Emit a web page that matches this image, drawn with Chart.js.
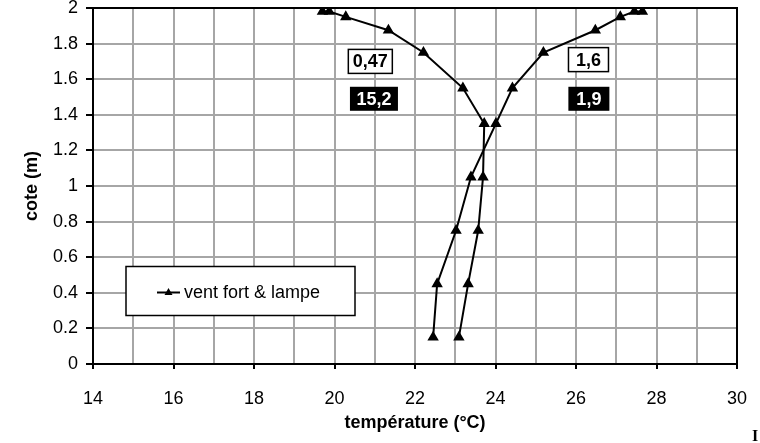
<!DOCTYPE html>
<html>
<head>
<meta charset="utf-8">
<script src="https://cdn.jsdelivr.net/npm/chart.js@4"></script>
<style>
  html, body { margin: 0; padding: 0; background: #fff; }
</style>
</head>
<body>
<canvas id="chart" width="760" height="443"></canvas>
<script>
// series 1 : branche qui finit en haut a gauche
const tempA = [19.70, 19.87, 20.28, 21.34, 22.21, 23.19, 23.72, 23.69, 23.57, 23.32, 23.09];
const coteA = [1.98, 1.98, 1.95, 1.875, 1.75, 1.55, 1.35, 1.05, 0.75, 0.45, 0.15];
// series 2 : branche qui finit en haut a droite
const tempB = [27.65, 27.45, 27.10, 26.48, 25.19, 24.42, 24.01, 23.39, 23.02, 22.55, 22.45];
const coteB = [1.98, 1.98, 1.95, 1.875, 1.75, 1.55, 1.35, 1.05, 0.75, 0.45, 0.15];

const seriesName = 'vent fort & lampe';
const noteTexts = ['0,47', '15,2', '1,6', '1,9'];

const FONT = '"Liberation Sans", Arial, sans-serif';

// placement of the value boxes, in data units
const notePlaces = [
  { x: 20.89, y: 1.70, dark: false, w: 44 },
  { x: 20.98, y: 1.49, dark: true, w: 48 },
  { x: 26.31, y: 1.71, dark: false, w: 40 },
  { x: 26.32, y: 1.49, dark: true, w: 41 }
];

const toPts = (xs, ys) => xs.map((v, i) => ({ x: v, y: ys[i] }));

const extras = {
  id: 'extras',
  afterDraw(chart) {
    const { ctx, chartArea: a, scales: { x, y } } = chart;
    ctx.save();

    // frame
    ctx.strokeStyle = '#000';
    ctx.lineWidth = 2;
    ctx.strokeRect(a.left, a.top, a.right - a.left, a.bottom - a.top);

    // value boxes
    ctx.font = 'bold 18px ' + FONT;
    ctx.textAlign = 'center';
    ctx.textBaseline = 'middle';
    notePlaces.forEach((n, i) => {
      const cx = x.getPixelForValue(n.x);
      const cy = y.getPixelForValue(n.y);
      const h = 24;
      if (n.dark) {
        ctx.fillStyle = '#000';
        ctx.fillRect(cx - n.w / 2, cy - h / 2, n.w, h);
        ctx.fillStyle = '#fff';
      } else {
        ctx.fillStyle = '#fff';
        ctx.fillRect(cx - n.w / 2, cy - h / 2, n.w, h);
        ctx.lineWidth = 1.5;
        ctx.strokeStyle = '#000';
        ctx.strokeRect(cx - n.w / 2, cy - h / 2, n.w, h);
        ctx.fillStyle = '#000';
      }
      ctx.fillText(noteTexts[i], cx, cy + 1);
    });

    // legend box
    const lx = a.left + 33, ly = a.top + 258.5;
    ctx.fillStyle = '#fff';
    ctx.fillRect(lx, ly, 229, 49);
    ctx.lineWidth = 1.5;
    ctx.strokeStyle = '#000';
    ctx.strokeRect(lx, ly, 229, 49);
    ctx.lineWidth = 2;
    ctx.beginPath();
    ctx.moveTo(lx + 31, ly + 26);
    ctx.lineTo(lx + 54, ly + 26);
    ctx.stroke();
    ctx.fillStyle = '#000';
    ctx.beginPath();
    ctx.moveTo(lx + 42.5, ly + 21.5);
    ctx.lineTo(lx + 46.5, ly + 28.5);
    ctx.lineTo(lx + 38.5, ly + 28.5);
    ctx.closePath();
    ctx.fill();
    ctx.font = '18px ' + FONT;
    ctx.textAlign = 'left';
    ctx.fillText(seriesName, lx + 58, ly + 27);

    // stray glyph at the bottom right corner
    ctx.font = 'bold 16px "Liberation Serif", serif';
    ctx.fillText('I', 752, 437);

    ctx.restore();
  }
};

const lineStyle = {
  borderColor: '#000',
  backgroundColor: '#000',
  borderWidth: 2,
  showLine: true,
  pointStyle: 'triangle',
  pointRadius: 4.6,
  pointHoverRadius: 4.6
};

new Chart(document.getElementById('chart'), {
  type: 'scatter',
  data: {
    datasets: [
      { label: seriesName, data: toPts(tempA, coteA), ...lineStyle },
      { label: seriesName, data: toPts(tempB, coteB), ...lineStyle }
    ]
  },
  options: {
    responsive: false,
    animation: false,
    layout: { padding: { top: 8, right: 23, left: 0, bottom: 0 } },
    plugins: {
      legend: { display: false },
      tooltip: { enabled: false }
    },
    scales: {
      x: {
        min: 14,
        max: 30,
        afterFit: s => {
          s.height = 79;
          s.paddingLeft = 0;
          s.paddingRight = 0;
        },
        ticks: {
          stepSize: 1,
          autoSkip: false,
          maxRotation: 0,
          padding: 19,
          color: '#000',
          font: { family: FONT, size: 18 },
          callback: v => (v % 2 === 0 ? v : '')
        },
        grid: {
          color: '#a6a6a6',
          lineWidth: 2,
          tickLength: 5,
          tickColor: c => (c.tick && c.tick.value % 2 !== 0 ? 'rgba(0,0,0,0)' : '#000')
        },
        border: { color: '#000', width: 2 },
        title: {
          display: true,
          text: 'température (°C)',
          color: '#000',
          font: { family: FONT, size: 18, weight: 'bold' },
          padding: { top: 0, bottom: 9 }
        }
      },
      y: {
        min: 0,
        max: 2,
        afterFit: s => {
          s.width = 93;
          s.paddingTop = 0;
          s.paddingBottom = 0;
        },
        ticks: {
          stepSize: 0.2,
          padding: 8,
          color: '#000',
          font: { family: FONT, size: 18 },
          callback: v => String(+v.toFixed(1))
        },
        grid: {
          color: '#a6a6a6',
          lineWidth: 2,
          tickLength: 7,
          tickColor: '#000'
        },
        border: { color: '#000', width: 2 },
        title: {
          display: true,
          text: 'cote (m)',
          color: '#000',
          font: { family: FONT, size: 18, weight: 'bold' },
          padding: { top: 21, bottom: 0 }
        }
      }
    }
  },
  plugins: [extras]
});
</script>
</body>
</html>
